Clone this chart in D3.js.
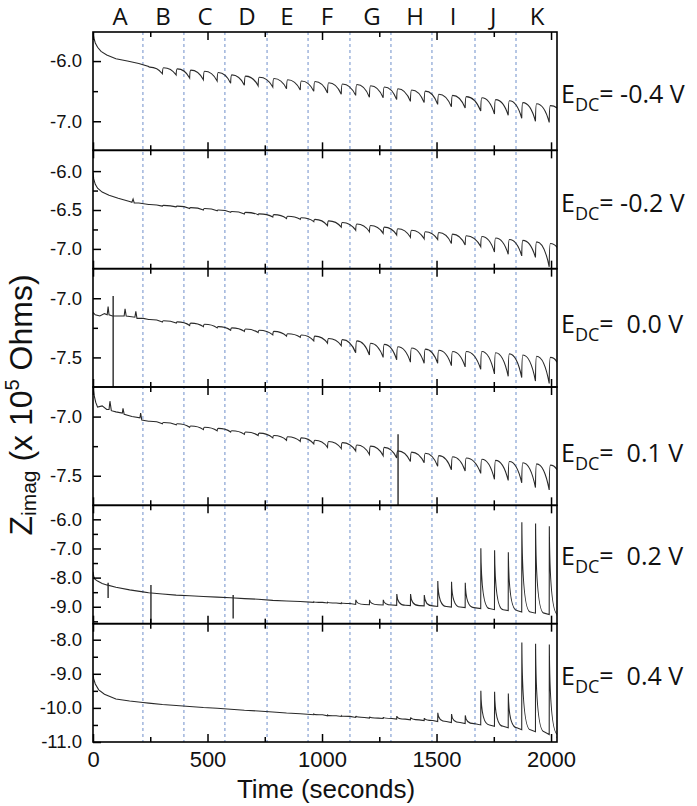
<!DOCTYPE html>
<html><head><meta charset="utf-8">
<script src="https://cdn.jsdelivr.net/npm/d3@7"></script>
<style>body{margin:0;background:#fff} svg{display:block}</style>
</head><body>
<svg id="chart" width="697" height="806"></svg>
<script>
// ---------------- data ----------------
const xTicksMajor = [0, 500, 1000, 1500, 2000];
const xTicksMinor = [250, 750, 1250, 1750];
const sectionLines = [218, 397, 576, 760, 939, 1122, 1301, 1480, 1668, 1847];
const sectionLetters = ["A","B","C","D","E","F","G","H","I","J","K"];
const sectionLetterTimes = [118, 306, 489, 672, 847, 1022, 1218, 1406, 1572, 1747, 1939];
const eventTimes = [243,303,363, 422,482,542, 601,661,721, 785,845,905, 964,1024,1084,
                    1147,1207,1267, 1326,1386,1446, 1505,1565,1625, 1693,1753,1813, 1872,1932,1992];
const edcLabels = ["-0.4", "-0.2", " 0.0", " 0.1", " 0.2", " 0.4"];

// panel 1: E = -0.4 V
const p1Init = [[0,-5.53],[4,-5.62],[10,-5.7],[20,-5.77],[35,-5.84],[60,-5.9],[100,-5.96],[150,-6.0],[200,-6.04]];
const p1Bottom = [-6.09,-6.21,-6.23, -6.28,-6.31,-6.33, -6.37,-6.4,-6.41, -6.43,-6.46,-6.48, -6.5,-6.53,-6.55,
                  -6.57,-6.6,-6.61, -6.64,-6.67,-6.69, -6.72,-6.76,-6.78, -6.83,-6.88,-6.9, -6.95,-7.0,-7.02];
const p1Top = [-6.1,-6.11,-6.13, -6.15,-6.17,-6.19, -6.23,-6.25,-6.27, -6.29,-6.31,-6.33, -6.34,-6.36,-6.38,
               -6.39,-6.41,-6.43, -6.46,-6.48,-6.5, -6.55,-6.57,-6.59, -6.61,-6.64,-6.66, -6.69,-6.71,-6.74];
const p1End = -6.78;

// panel 2: E = -0.2 V
const p2Init = [[0,-6.02],[3,-6.1],[10,-6.17],[20,-6.22],[40,-6.27],[70,-6.31],[110,-6.35],[160,-6.39],[170,-6.4],[175,-6.36],[180,-6.41],[200,-6.41]];
const p2Bottom = [-6.43,-6.45,-6.46, -6.48,-6.5,-6.51, -6.53,-6.55,-6.56, -6.59,-6.61,-6.62, -6.65,-6.7,-6.72,
                  -6.76,-6.78,-6.8, -6.82,-6.85,-6.87, -6.88,-6.93,-6.95, -6.97,-7.04,-7.07, -7.09,-7.11,-7.23];
const p2Top = [-6.43,-6.44,-6.45, -6.47,-6.48,-6.5, -6.52,-6.53,-6.55, -6.56,-6.58,-6.6, -6.62,-6.64,-6.66,
               -6.68,-6.7,-6.72, -6.74,-6.76,-6.78, -6.79,-6.81,-6.83, -6.84,-6.86,-6.88, -6.89,-6.91,-6.93];
const p2End = -6.98;

// panel 3: E = 0.0 V
const p3Init = [[0,-7.12],[10,-7.14],[30,-7.15],[50,-7.13],[62,-7.14],[66,-7.07],[70,-7.14],[85,-7.15],[92,-7.15],
                [120,-7.15],[136,-7.15],[140,-7.09],[145,-7.15],[183,-7.16],[187,-7.11],[192,-7.17],[220,-7.17]];
const p3Bottom = [-7.18,-7.2,-7.21, -7.23,-7.24,-7.25, -7.27,-7.28,-7.29, -7.31,-7.32,-7.33, -7.36,-7.38,-7.4,
                  -7.46,-7.48,-7.5, -7.52,-7.54,-7.55, -7.55,-7.57,-7.58, -7.6,-7.64,-7.66, -7.67,-7.7,-7.72];
const p3Top = [-7.18,-7.19,-7.2, -7.21,-7.22,-7.24, -7.25,-7.26,-7.27, -7.28,-7.3,-7.31, -7.32,-7.34,-7.35,
               -7.36,-7.38,-7.39, -7.41,-7.42,-7.43, -7.44,-7.45,-7.45, -7.45,-7.46,-7.47, -7.48,-7.49,-7.5];
const p3End = -7.54;
const p3Noise = [[88,-6.98,-7.75]];

// panel 4: E = 0.1 V
const p4Init = [[0,-6.75],[5,-6.82],[12,-6.88],[20,-6.92],[40,-6.91],[60,-6.94],[70,-6.94],[74,-6.87],[80,-6.95],
                [100,-6.96],[128,-6.97],[131,-6.93],[136,-6.98],[170,-7.0],[205,-7.01],[208,-6.97],[213,-7.03]];
const p4Bottom = [-7.04,-7.06,-7.07, -7.09,-7.11,-7.12, -7.13,-7.15,-7.16, -7.18,-7.2,-7.21, -7.23,-7.26,-7.27,
                  -7.29,-7.32,-7.33, -7.35,-7.38,-7.39, -7.42,-7.45,-7.46, -7.48,-7.53,-7.54, -7.56,-7.6,-7.62];
const p4Top = [-7.04,-7.05,-7.06, -7.08,-7.09,-7.1, -7.12,-7.13,-7.14, -7.16,-7.17,-7.18, -7.2,-7.21,-7.22,
               -7.24,-7.25,-7.26, -7.29,-7.3,-7.31, -7.33,-7.34,-7.35, -7.36,-7.37,-7.38, -7.39,-7.4,-7.41];
const p4End = -7.45;
const p4Noise = [[1332,-7.15,-7.75]];

// panel 5: E = 0.2 V
const p5Init = [[0,-7.8],[3,-7.95],[8,-8.05],[20,-8.12],[40,-8.2],[60,-8.25],[100,-8.33],[160,-8.42],[218,-8.49]];
const p5Base = [-8.52,-8.56,-8.6, -8.62,-8.65,-8.67, -8.69,-8.72,-8.74, -8.78,-8.8,-8.82, -8.85,-8.87,-8.89,
                -8.92,-8.93,-8.94, -8.95,-8.96,-8.97, -8.99,-9.01,-9.03, -9.06,-9.1,-9.13, -9.18,-9.22,-9.27];
const p5Peak = [-8.52,-8.56,-8.6, -8.62,-8.65,-8.67, -8.69,-8.72,-8.74, -8.78,-8.8,-8.82, -8.83,-8.85,-8.87,
                -8.76,-8.76,-8.76, -8.56,-8.56,-8.6, -8.12,-8.14,-8.18, -6.99,-7.06,-7.13, -6.1,-6.14,-6.24];
const p5End = -9.32;
const p5Noise = [[66,-8.18,-8.7],[253,-8.25,-9.58],[612,-8.6,-9.4]];

// panel 6: E = 0.4 V
const p6Init = [[0,-9.0],[3,-9.15],[10,-9.3],[25,-9.47],[50,-9.6],[100,-9.74],[160,-9.8],[218,-9.84]];
const p6Base = [-9.86,-9.9,-9.93, -9.96,-9.99,-10.01, -10.04,-10.07,-10.09, -10.12,-10.15,-10.17, -10.2,-10.23,-10.25,
                -10.28,-10.3,-10.31, -10.33,-10.35,-10.37, -10.4,-10.43,-10.46, -10.5,-10.54,-10.58, -10.64,-10.7,-10.78];
const p6Peak = [-9.86,-9.9,-9.93, -9.96,-9.99,-10.01, -10.04,-10.07,-10.09, -10.12,-10.15,-10.17, -10.18,-10.21,-10.23,
                -10.24,-10.26,-10.27, -10.24,-10.28,-10.3, -10.14,-10.18,-10.22, -9.5,-9.53,-9.58, -8.08,-8.12,-8.14];
const p6End = -10.88;

const yDomains = [[-7.483,-5.517],[-7.254,-5.733],[-7.75,-6.75],[-7.75,-6.75],[-9.58,-5.52],[-11.0,-7.53]];
const yMajor = [[-6.0,-7.0],[-6.0,-6.5,-7.0],[-7.0,-7.5],[-7.0,-7.5],[-6,-7,-8,-9],[-8,-9,-10,-11]];
const yMinor = [[-6.5],[-6.25,-6.75],[-7.25],[-7.25],[-6.5,-7.5,-8.5,-9.5],[-8.5,-9.5,-10.5]];

// ---------------- layout ----------------
const L = 93, R = 557, T = 32, B = 742, tMax = 2026;
const nP = 6, PH = (B - T) / nP;
const labelBaselines = [103, 212, 333, 462, 565, 685];
const svg = d3.select("#chart");
const x = d3.scaleLinear().domain([0, tMax]).range([L, R]);
const fmt = d3.formatLocale({decimal: ".", thousands: ",", grouping: [3], currency: ["", ""], minus: "-"}).format(".1f");
const lineColor = "#2a2a2a";

// dashed section lines
svg.append("g").selectAll("line").data(sectionLines).join("line")
  .attr("x1", d => x(d)).attr("x2", d => x(d)).attr("y1", T).attr("y2", B)
  .attr("stroke", "#6f8fca").attr("stroke-width", 1).attr("stroke-dasharray", "3,3");

// section letters
svg.append("g").selectAll("text").data(sectionLetters).join("text")
  .attr("x", (d, i) => x(sectionLetterTimes[i])).attr("y", 25)
  .attr("text-anchor", "middle").attr("font-family", "'Open Sans', sans-serif").attr("font-size", 24)
  .attr("fill", "#111").text(d => d);

function sawPath(y, init, bottoms, tops, endV) {
  const p = d3.path();
  init.forEach((d, i) => i ? p.lineTo(x(d[0]), y(d[1])) : p.moveTo(x(d[0]), y(d[1])));
  eventTimes.forEach((t, i) => {
    if (i === 0) p.lineTo(x(t), y(bottoms[0]));
    p.quadraticCurveTo(x(t + 1), y(tops[i]), x(t + 5), y(tops[i]));
    const last = i === eventTimes.length - 1;
    const tn = last ? tMax : eventTimes[i + 1];
    const vn = last ? endV : bottoms[i + 1];
    p.quadraticCurveTo(x(t + 5 + (tn - t - 5) * 0.6), y(tops[i]), x(tn), y(vn));
  });
  return p.toString();
}
function spikePath(y, init, bases, peaks, endV) {
  const p = d3.path();
  init.forEach((d, i) => i ? p.lineTo(x(d[0]), y(d[1])) : p.moveTo(x(d[0]), y(d[1])));
  eventTimes.forEach((t, i) => {
    p.lineTo(x(t), y(bases[i]));
    if (peaks[i] !== bases[i]) {
      p.lineTo(x(t + 0.5), y(peaks[i]));
      p.quadraticCurveTo(x(t + 3), y(bases[i]), x(t + 38), y(bases[i]));
    }
  });
  p.lineTo(x(tMax), y(endV));
  return p.toString();
}

const panels = [
  {type: "saw", init: p1Init, a: p1Bottom, b: p1Top, end: p1End, noise: []},
  {type: "saw", init: p2Init, a: p2Bottom, b: p2Top, end: p2End, noise: []},
  {type: "saw", init: p3Init, a: p3Bottom, b: p3Top, end: p3End, noise: p3Noise},
  {type: "saw", init: p4Init, a: p4Bottom, b: p4Top, end: p4End, noise: p4Noise},
  {type: "spike", init: p5Init, a: p5Base, b: p5Peak, end: p5End, noise: p5Noise},
  {type: "spike", init: p6Init, a: p6Base, b: p6Peak, end: p6End, noise: []}
];

panels.forEach((pn, k) => {
  const y0 = T + k * PH, y1 = y0 + PH;
  const y = d3.scaleLinear().domain(yDomains[k]).range([y1, y0]);
  const g = svg.append("g");
  const cid = "clip" + k;
  svg.append("clipPath").attr("id", cid).append("rect").attr("x", L).attr("y", y0).attr("width", R - L).attr("height", PH);
  const dg = g.append("g").attr("clip-path", `url(#${cid})`);
  const dpath = pn.type === "saw" ? sawPath(y, pn.init, pn.a, pn.b, pn.end) : spikePath(y, pn.init, pn.a, pn.b, pn.end);
  dg.append("path").attr("d", dpath).attr("fill", "none").attr("stroke", lineColor).attr("stroke-width", 1.1);
  dg.selectAll("line.noise").data(pn.noise).join("line").attr("class", "noise")
    .attr("x1", d => x(d[0])).attr("x2", d => x(d[0])).attr("y1", d => y(d[1])).attr("y2", d => y(d[2]))
    .attr("stroke", lineColor).attr("stroke-width", 1.4);

  // axes (inward ticks)
  const axStyle = s => { s.select(".domain").remove(); s.selectAll("line").attr("stroke", "#000").attr("stroke-width", 1.5); };
  g.append("g").attr("transform", `translate(0,${y1})`)
    .call(d3.axisBottom(x).tickValues(xTicksMajor).tickSize(-8).tickPadding(9).tickFormat(k === nP - 1 ? d3.format("d") : ""))
    .call(axStyle)
    .call(s => s.selectAll("text").attr("font-family", "'Liberation Sans', Arial, sans-serif").attr("font-size", 22).attr("fill", "#111"));
  g.append("g").attr("transform", `translate(0,${y1})`)
    .call(d3.axisBottom(x).tickValues(xTicksMinor).tickSize(-5).tickFormat("")).call(axStyle);
  g.append("g").attr("transform", `translate(0,${y0})`)
    .call(d3.axisTop(x).tickValues(xTicksMajor).tickSize(-8).tickFormat("")).call(axStyle);
  g.append("g").attr("transform", `translate(0,${y0})`)
    .call(d3.axisTop(x).tickValues(xTicksMinor).tickSize(-5).tickFormat("")).call(axStyle);
  g.append("g").attr("transform", `translate(${L},0)`)
    .call(d3.axisLeft(y).tickValues(yMajor[k]).tickSize(-8).tickPadding(11).tickFormat(fmt))
    .call(axStyle)
    .call(s => s.selectAll("text").attr("font-family", "'Liberation Sans', Arial, sans-serif").attr("font-size", 18.5).attr("fill", "#111"));
  g.append("g").attr("transform", `translate(${L},0)`)
    .call(d3.axisLeft(y).tickValues(yMinor[k]).tickSize(-5).tickFormat("")).call(axStyle);

  // frame
  g.append("rect").attr("x", L).attr("y", y0).attr("width", R - L).attr("height", PH)
    .attr("fill", "none").attr("stroke", "#000").attr("stroke-width", 1.6);

  // E_DC label
  const t = svg.append("text").attr("x", 561).attr("y", labelBaselines[k])
    .attr("font-family", "'Open Sans', sans-serif").attr("font-size", 25).attr("fill", "#111")
    .style("white-space", "pre");
  t.append("tspan").text("E");
  t.append("tspan").attr("font-size", 18).attr("dy", 8).text("DC");
  t.append("tspan").attr("dy", -8).text("= " + edcLabels[k] + " V");
});

// axis titles
svg.append("text").attr("x", 326).attr("y", 798).attr("text-anchor", "middle")
  .attr("font-family", "'Liberation Sans', Arial, sans-serif").attr("font-size", 26).attr("fill", "#111")
  .text("Time (seconds)");
const yt = svg.append("text").attr("transform", "translate(32,405) rotate(-90)").attr("text-anchor", "middle")
  .attr("font-family", "'Liberation Sans', Arial, sans-serif").attr("font-size", 32).attr("fill", "#111")
  .style("white-space", "pre");
yt.append("tspan").text("Z");
yt.append("tspan").attr("font-size", 21).attr("dy", 4).text("imag");
yt.append("tspan").attr("dy", -4).text(" (x 10");
yt.append("tspan").attr("font-size", 20).attr("dy", -13).text("5");
yt.append("tspan").attr("dy", 13).text(" Ohms)");
</script>
</body></html>
